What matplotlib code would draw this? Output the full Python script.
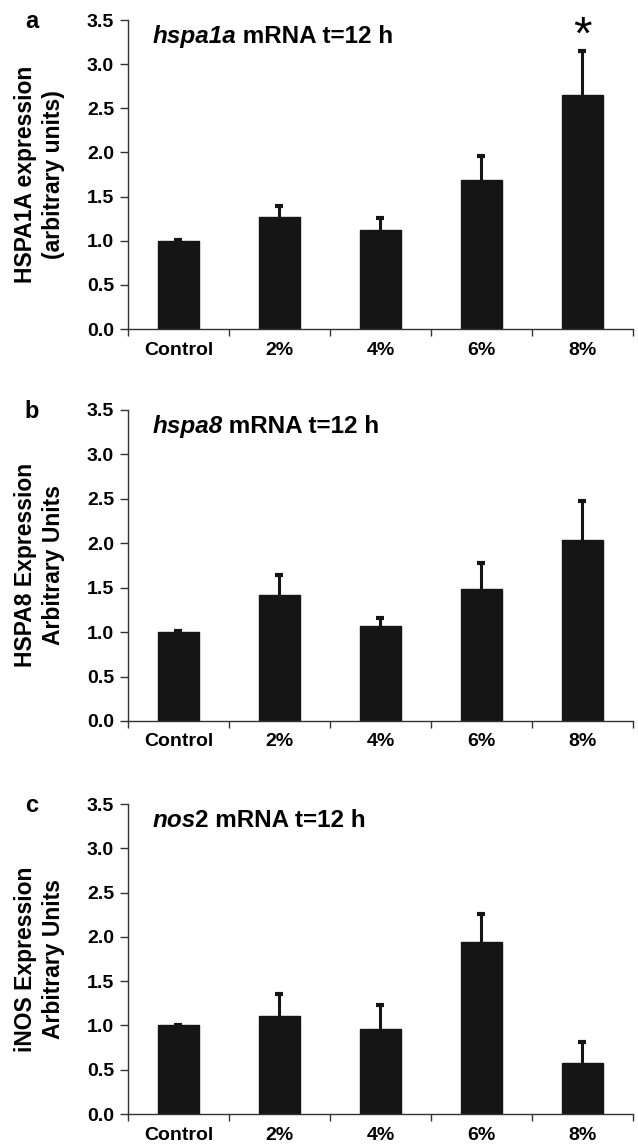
import numpy as np
import matplotlib
matplotlib.use('Agg')
import matplotlib.pyplot as plt

plt.rcParams['font.family'] = ['Liberation Sans', 'DejaVu Sans']
plt.rcParams['font.weight'] = 'bold'

categories = ['Control', '2%', '4%', '6%', '8%']

# panel a: hspa1a
hspa1a_mean = [1.00, 1.27, 1.125, 1.685, 2.65]
hspa1a_err = [0.01, 0.12, 0.135, 0.272, 0.504]

# panel b: hspa8
hspa8_mean = [1.00, 1.415, 1.07, 1.49, 2.04]
hspa8_err = [0.01, 0.225, 0.087, 0.29, 0.44]

# panel c: nos2
nos2_mean = [1.00, 1.11, 0.957, 1.945, 0.575]
nos2_err = [0.01, 0.25, 0.278, 0.319, 0.24]

yticks = [0.0, 0.5, 1.0, 1.5, 2.0, 2.5, 3.0, 3.5]

panels = [
    ('a', hspa1a_mean, hspa1a_err, ('hspa1a', ' mRNA t=12 h'),
     'HSPA1A expression\n(arbitrary units)', [0.7129, 0.2696]),
    ('b', hspa8_mean, hspa8_err, ('hspa8', ' mRNA t=12 h'),
     'HSPA8 Expression\nArbitrary Units', [0.3709, 0.2714]),
    ('c', nos2_mean, nos2_err, ('nos', '2 mRNA t=12 h'),
     'iNOS Expression\nArbitrary Units', [0.0279, 0.2705]),
]

fig = plt.figure(figsize=(6.38, 11.46), dpi=100)
bar_color = '#151515'
spine_color = '#333333'

axes = []
for letter, mean, err, title, ylab, (bottom, height) in panels:
    ax = fig.add_axes([0.2006, bottom, 0.7915, height])
    axes.append(ax)
    x = np.arange(len(categories)) + 0.5
    top = np.array(mean) + np.array(err)
    # upper-only error bars with small caps
    ax.vlines(x, mean, top, color=bar_color, linewidth=2.2, zorder=1)
    ax.plot(x, top, linestyle='none', marker='_', markersize=6,
            markeredgewidth=3, color=bar_color, zorder=1)
    ax.bar(x, mean, width=0.41, color=bar_color, edgecolor=bar_color, zorder=2)

    ax.set_xlim(0, 5)
    ax.set_ylim(0, 3.5)
    ax.set_yticks(yticks)
    ax.set_yticklabels(['%.1f' % v for v in yticks], fontsize=14, fontweight='bold')
    ax.set_xticks(x)
    ax.set_xticklabels(categories, fontsize=14, fontweight='bold')
    ax.set_xticks(np.arange(0, 6), minor=True)
    ax.tick_params(axis='x', which='major', length=0, pad=9)
    ax.tick_params(axis='x', which='minor', length=5, width=1, color=spine_color, direction='out')
    ax.tick_params(axis='y', length=6, width=1, color=spine_color, direction='out', pad=4)

    for s in ['top', 'right']:
        ax.spines[s].set_visible(False)
    for s in ['left', 'bottom']:
        ax.spines[s].set_color(spine_color)
        ax.spines[s].set_linewidth(1.0)

    t1 = ax.text(0.048, 0.926, title[0], transform=ax.transAxes, fontsize=17.5,
                 fontweight='bold', style='italic', ha='left', va='baseline')
    ax.annotate(title[1], xy=(1, 0), xycoords=t1, fontsize=17.5, fontweight='bold',
                ha='left', va='bottom')

    ax.text(-0.175, 0.50, ylab, transform=ax.transAxes, rotation=90, fontsize=16.5,
            fontweight='bold', ha='center', va='center', multialignment='center',
            linespacing=1.3)

    ax.text(-0.19, 0.995, letter, transform=ax.transAxes, fontsize=17,
            fontweight='bold', ha='center', va='center')

# significance marker on 8% of panel a
axes[0].text(4.5, 3.17, '*', fontsize=34, fontweight='normal', ha='center', va='baseline')

fig.savefig('out.png', dpi=100)
